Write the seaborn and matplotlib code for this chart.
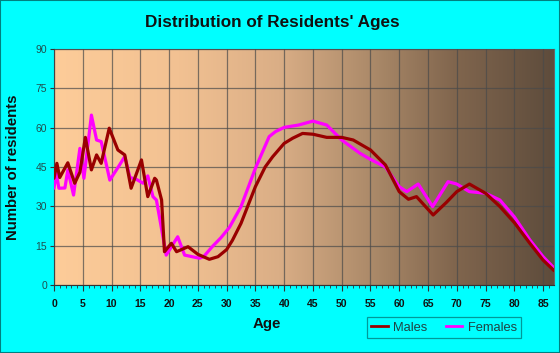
import numpy as np
import pandas as pd
import matplotlib
matplotlib.use("Agg")
import matplotlib.pyplot as plt
from matplotlib.colors import LinearSegmentedColormap
from matplotlib.patches import Rectangle
import seaborn as sns

# values
male_age = [0, 0.5, 1, 2.4, 3.6, 4.5, 5.45, 6.5, 7.4, 8.2, 9.6, 11.1, 12.3, 13.4,
            15.2, 16.3, 17.5, 17.8, 18.7, 19.2, 20.4, 21.3, 23.3, 25, 27, 28.5,
            30, 31, 32.5, 35, 36.7, 38, 40, 41.5, 43.2, 45, 47.4, 50, 52, 55,
            57.6, 60, 61.6, 63, 65.9, 68.2, 70, 72.2, 75, 77.5, 80, 82.7, 85, 86.9]
male_count = [40.7, 46.4, 41, 46.6, 38.8, 43, 56.3, 43.9, 49.6, 46.4, 59.8, 51.5,
              49.6, 36.9, 47.7, 33.7, 40.7, 40.0, 32.4, 12.7, 15.9, 12.7, 14.6,
              11.7, 9.8, 10.8, 13.5, 17, 23.5, 37.5, 45, 48.9, 54, 56, 57.8,
              57.5, 56.3, 56.3, 55.3, 51.5, 45.8, 35.6, 32.7, 33.7, 26.7, 31.5,
              35.6, 38.5, 35, 29.9, 23.8, 15.9, 9.5, 5.5]

female_age = [0, 0.4, 0.85, 1.9, 2.4, 3.4, 4.5, 5.2, 6.5, 7.4, 8.2, 9.7, 11.4,
              12.3, 13.2, 14.3, 15.5, 16.3, 17.2, 17.8, 19.5, 21.5, 22.7, 25.3,
              26, 27.5, 29, 30.5, 32.5, 35, 37.4, 38.5, 40, 42.5, 45, 47.4, 50,
              53.2, 55, 57.6, 60, 61.3, 63.3, 65.8, 68.5, 70, 72.2, 75, 77.5, 80,
              82.7, 85, 86.9]
female_count = [36.9, 42.7, 36.9, 37, 43.9, 34.3, 52.1, 40.7, 64.8, 55.3, 54.7,
                40, 45.8, 49, 41, 40.3, 38.8, 41.6, 33.7, 32.4, 11.4, 18.4, 11.4,
                10.2, 10.8, 14.6, 18, 22, 29.9, 44.5, 56.6, 58.5, 60.1, 61, 62.5,
                61, 55.3, 50.2, 47.9, 45, 37.5, 35.6, 38.5, 29.9, 39.4, 38.5, 35.6,
                35, 32.4, 26, 17.2, 10.8, 6.5]

x_ticks = list(range(0, 90, 5))
y_ticks = [0, 15, 30, 45, 60, 75, 90]

df = pd.concat([
    pd.DataFrame({"Age": male_age, "Residents": male_count, "Sex": "Males"}),
    pd.DataFrame({"Age": female_age, "Residents": female_count, "Sex": "Females"}),
], ignore_index=True)

plt.rcParams["font.family"] = ["Liberation Sans", "DejaVu Sans"]

fig = plt.figure(figsize=(5.6, 3.53), dpi=100, facecolor="#00FFFF")
ax = fig.add_axes([54 / 560, 68 / 353, 500 / 560, 236 / 353])

# peach-to-brown background gradient
cmap = LinearSegmentedColormap.from_list("bg", [
    (0.0, "#FDCC99"), (0.25, "#F2C192"), (0.45, "#DAAE86"),
    (0.65, "#A88767"), (0.8, "#81664E"), (1.0, "#5E4C3C")])
ax.imshow(np.linspace(0, 1, 256).reshape(1, -1), cmap=cmap, aspect="auto",
          extent=(0, 1, 0, 1), transform=ax.transAxes, zorder=0)

sns.lineplot(data=df, x="Age", y="Residents", hue="Sex", sort=False,
             palette={"Males": "#990000", "Females": "#FF00FF"},
             hue_order=["Males", "Females"], linewidth=2.3, ax=ax, zorder=3,
             legend=False)
for line in ax.lines:
    line.set_solid_joinstyle("round")
    line.set_solid_capstyle("round")
# males on top
ax.lines[0].set_zorder(4)

ax.set_xlim(0, 86.9)
ax.set_ylim(0, 90)
ax.set_xticks(x_ticks)
ax.set_xticks(range(0, 87), minor=True)
ax.set_yticks(y_ticks)
ax.grid(True, which="major", color="#4a4a4a", alpha=0.7, linewidth=0.9)
ax.set_axisbelow(False)
for line in ax.get_xgridlines() + ax.get_ygridlines():
    line.set_zorder(1)

ax.tick_params(axis="x", which="major", length=4, color="#333333",
               labelsize=7.5, labelcolor="#111111", pad=6)
ax.tick_params(axis="x", which="minor", length=2.5, color="#333333")
ax.tick_params(axis="y", length=3, color="#333333", labelsize=7.5,
               labelcolor="#1f4f4f", pad=2)
for lab in ax.get_xticklabels():
    lab.set_fontweight("bold")
for side in ["top", "right"]:
    ax.spines[side].set_color("#666666")
    ax.spines[side].set_linewidth(0.8)
for side in ["left", "bottom"]:
    ax.spines[side].set_color("#333333")
    ax.spines[side].set_linewidth(0.8)

ax.set_xlabel("")
ax.set_ylabel("")
fig.text(272 / 560, 1 - 23 / 353, "Distribution of Residents' Ages", ha="center",
         va="center", fontsize=12.3, fontweight="bold", color="#111111")
fig.text(13 / 560, 1 - 167 / 353, "Number of residents", rotation=90,
         ha="center", va="center", fontsize=10.8, fontweight="bold", color="#111111")
fig.text(267 / 560, 1 - 324 / 353, "Age", ha="center", va="center",
         fontsize=10.8, fontweight="bold", color="#111111")

# legend
handles = [plt.Line2D([], [], color="#990000", linewidth=2),
           plt.Line2D([], [], color="#FF00FF", linewidth=2)]
leg = fig.legend(handles, ["Males", "Females"], loc="center",
                 bbox_to_anchor=(444 / 560, 1 - 327.5 / 353), ncol=2,
                 frameon=True, fancybox=False, fontsize=9.3, handlelength=1.3,
                 handletextpad=0.4, columnspacing=1.4, borderpad=0.35)
leg.get_frame().set_facecolor("#00FFFF")
leg.get_frame().set_edgecolor("#008080")
leg.get_frame().set_linewidth(0.9)
for t in leg.get_texts():
    t.set_color("#1f4444")

fig.patches.append(Rectangle((0, 0), 1, 1, transform=fig.transFigure,
                             fill=False, edgecolor="#008080", linewidth=1.5))

fig.savefig("out.png", dpi=100, facecolor=fig.get_facecolor())
